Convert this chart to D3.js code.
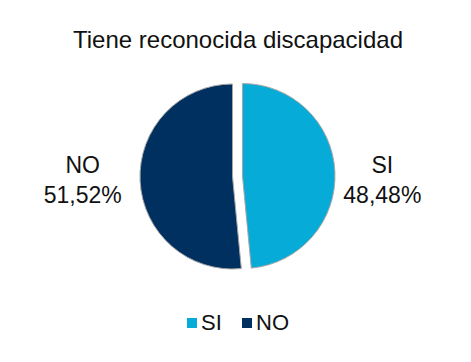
<!DOCTYPE html>
<html>
<head>
<meta charset="utf-8">
<script src="https://cdn.jsdelivr.net/npm/d3@7"></script>
<style>
  body { margin: 0; background: #fff; }
  text { font-family: "Liberation Sans", Arial, sans-serif; fill: #111; }
</style>
</head>
<body>
<div id="chart"></div>
<script>
// Chart data
const categories = ["SI", "NO"];
const values = [48.48, 51.52];
const colors = ["#06acd7", "#00305f"];
const title = "Tiene reconocida discapacidad";

const width = 471, height = 362;
const cx = 232.5, cy = 176.5, radius = 92.5;

const svg = d3.select("#chart")
    .append("svg")
    .attr("width", width)
    .attr("height", height);

// Title
svg.append("text")
    .attr("x", 238)
    .attr("y", 48)
    .attr("text-anchor", "middle")
    .style("font-size", "24px")
    .text(title);

const pie = d3.pie().sort(null).value(d => d);
const arcs = pie(values);

const arc = d3.arc().innerRadius(0).outerRadius(radius);
const labelArc = d3.arc().innerRadius(150).outerRadius(150);

// Explode the SI slice a bit
const explode = [10, 0];

const g = svg.append("g")
    .attr("transform", `translate(${cx},${cy})`);

const slice = g.selectAll("g.slice")
    .data(arcs)
    .enter()
    .append("g")
    .attr("class", "slice")
    .attr("transform", (d, i) => {
        const a = (d.startAngle + d.endAngle) / 2;
        return `translate(${Math.sin(a) * explode[i]},${-Math.cos(a) * explode[i]})`;
    });

slice.append("path")
    .attr("d", arc)
    .attr("fill", (d, i) => colors[i])
    .attr("stroke", "#a6a6a6")
    .attr("stroke-width", 1);

// Outside labels: category + percentage
const fmt = v => v.toFixed(2).replace(".", ",") + "%";

const label = g.selectAll("text.lbl")
    .data(arcs)
    .enter()
    .append("text")
    .attr("class", "lbl")
    .attr("text-anchor", "middle")
    .attr("transform", d => `translate(${labelArc.centroid(d)[0]},0)`)
    .style("font-size", "23px");

label.append("tspan")
    .attr("x", 0)
    .attr("y", -3.5)
    .text((d, i) => categories[i]);

label.append("tspan")
    .attr("x", 0)
    .attr("y", 26.5)
    .text(d => fmt(d.data));

// Legend
const legendX = [187, 242];
const legend = svg.append("g")
    .selectAll("g")
    .data(categories)
    .enter()
    .append("g")
    .attr("transform", (d, i) => `translate(${legendX[i]},318)`);

legend.append("rect")
    .attr("width", 10)
    .attr("height", 10)
    .attr("fill", (d, i) => colors[i]);

legend.append("text")
    .attr("x", 14)
    .attr("y", 12)
    .style("font-size", "22px")
    .text(d => d);
</script>
</body>
</html>
